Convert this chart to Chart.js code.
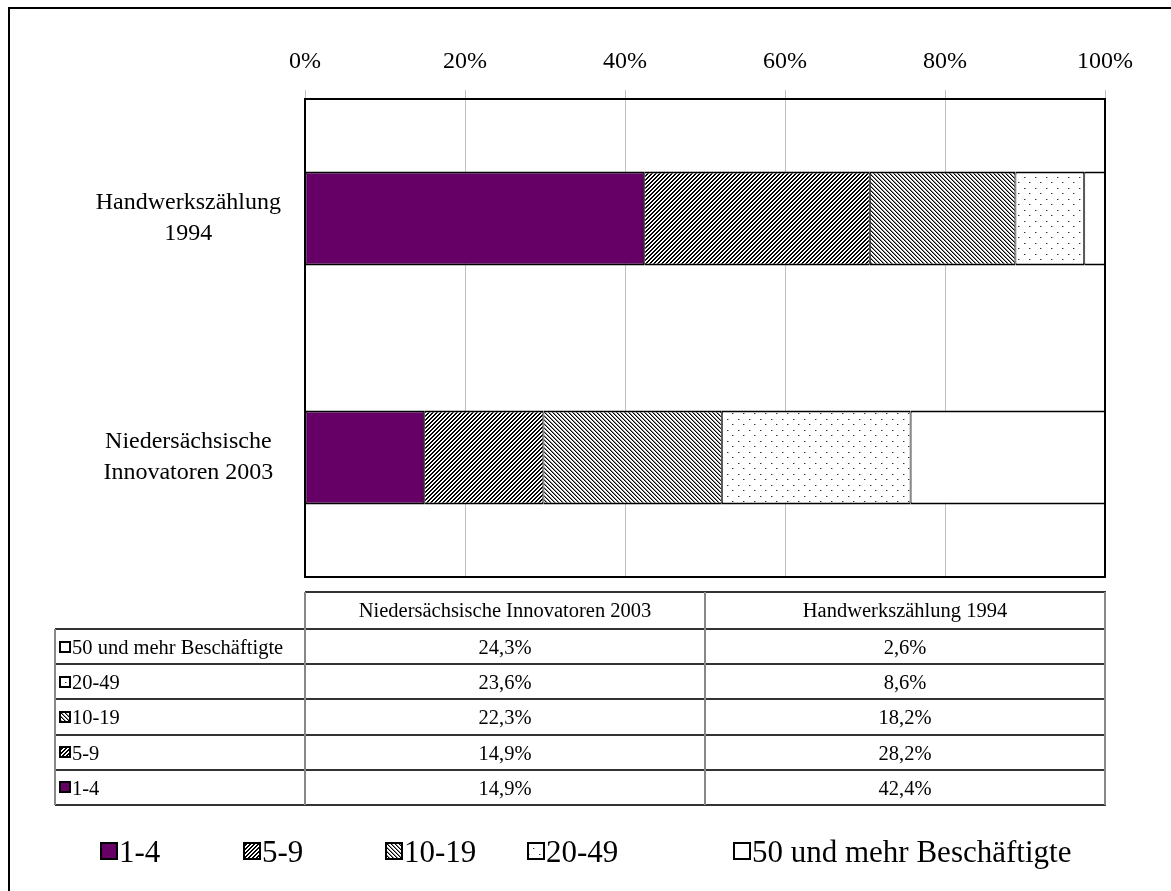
<!DOCTYPE html>
<html>
<head>
<meta charset="utf-8">
<script src="https://cdn.jsdelivr.net/npm/chart.js@4/dist/chart.umd.min.js"></script>
<style>
  html, body { margin: 0; padding: 0; background: #fff; overflow: hidden; }
  #page { position: relative; width: 1171px; height: 891px; overflow: hidden;
          font-family: 'Liberation Serif', 'Times New Roman', serif; color: #000; }
  #frame { position: absolute; left: 8px; top: 7px; width: 1200px; height: 950px; border: 2px solid #000; }
  #chart { position: absolute; left: 0; top: 0; }
  .cell { position: absolute; font-size: 20.5px; line-height: 24px; white-space: nowrap; }
  .hl { position: absolute; height: 2px; background: #333; }
  .vl { position: absolute; width: 2px; background: #888; }
  .key { position: absolute; }
  .lg { position: absolute; font-size: 31px; line-height: 36px; white-space: nowrap; }
</style>
</head>
<body>
<div id="page">
  <div id="frame"></div>
  <canvas id="chart" width="1171" height="891"></canvas>
  <div id="table"></div>
  <div id="legend"></div>
</div>
<script>
// Firm size classes (employees) and their shares in percent
const categories = [['Handwerkszählung', '1994'], ['Niedersächsische', 'Innovatoren 2003']];
const tableColumns = ['Niedersächsische Innovatoren 2003', 'Handwerkszählung 1994'];
const sizeClasses = ['1-4', '5-9', '10-19', '20-49', '50 und mehr Beschäftigte'];
const share1to4   = [42.4, 14.9];
const share5to9   = [28.2, 14.9];
const share10to19 = [18.2, 22.3];
const share20to49 = [8.6, 23.6];
const share50plus = [2.6, 24.3];
const xTicks = [0, 20, 40, 60, 80, 100];

const seriesValues = [share1to4, share5to9, share10to19, share20to49, share50plus];
const FONT = "'Liberation Serif', 'Times New Roman', serif";

// Small bitmap tiles for the hatched fills
function tile(kind) {
  const c = document.createElement('canvas');
  const w = kind === 'dots' ? 11 : 4, h = w;
  c.width = w; c.height = h;
  const g = c.getContext('2d');
  g.fillStyle = '#fff'; g.fillRect(0, 0, w, h);
  for (let y = 0; y < h; y++) {
    for (let x = 0; x < w; x++) {
      if (kind === 'fwd' && (x + y) % 4 < 2) { g.fillStyle = '#000'; g.fillRect(x, y, 1, 1); }
      if (kind === 'back') {
        const k = ((x - y) % 4 + 4) % 4;
        if (k === 0) { g.fillStyle = '#000'; g.fillRect(x, y, 1, 1); }
        else if (k === 1) { g.fillStyle = '#8c8c8c'; g.fillRect(x, y, 1, 1); }
      }
    }
  }
  if (kind === 'dots') {
    g.fillStyle = '#333'; g.fillRect(1, 1, 1, 1); g.fillRect(6, 6, 1, 1);
    g.fillStyle = '#aaa'; g.fillRect(2, 1, 1, 1); g.fillRect(7, 6, 1, 1);
  }
  return c;
}

function fillsFor(ctx) {
  return [
    '#660066',
    ctx.createPattern(tile('fwd'), 'repeat'),
    ctx.createPattern(tile('back'), 'repeat'),
    ctx.createPattern(tile('dots'), 'repeat'),
    '#ffffff'
  ];
}

const ctx = document.getElementById('chart').getContext('2d');
const fills = fillsFor(ctx);

// Black frame round the plot area
const framePlugin = {
  id: 'plotFrame',
  afterDatasetsDraw(chart) {
    const { ctx: c, chartArea: a } = chart;
    c.save();
    c.strokeStyle = '#000';
    c.lineWidth = 2;
    c.strokeRect(a.left, a.top, a.right - a.left, a.bottom - a.top);
    c.restore();
  }
};

new Chart(ctx, {
  type: 'bar',
  data: {
    labels: categories,
    datasets: sizeClasses.map((name, i) => ({
      label: name,
      data: seriesValues[i],
      backgroundColor: fills[i],
      borderColor: '#000',
      borderWidth: { top: 2, bottom: 2, left: 1, right: 1 },
      borderSkipped: false,
      inflateAmount: 0,
      barPercentage: 94 / 239,
      categoryPercentage: 1
    }))
  },
  options: {
    indexAxis: 'y',
    responsive: false,
    animation: false,
    devicePixelRatio: 1,
    layout: { padding: { top: 0, left: 0, right: 66, bottom: 314 } },
    plugins: { legend: { display: false }, tooltip: { enabled: false } },
    scales: {
      x: {
        position: 'top',
        stacked: true,
        min: 0,
        max: 100,
        afterBuildTicks(s) { s.ticks = xTicks.map(v => ({ value: v })); },
        ticks: { callback: v => v + '%', font: { family: FONT, size: 24 }, color: '#000', padding: 14, maxRotation: 0 },
        grid: { color: '#c0c0c0', lineWidth: 1, tickLength: 9, drawTicks: true },
        border: { display: false },
        afterFit(s) { s.height = 99; }
      },
      y: {
        stacked: true,
        grid: { display: false, drawTicks: false },
        border: { display: false },
        ticks: { font: { family: FONT, size: 24, lineHeight: 1.3 }, color: '#000', crossAlign: 'center', padding: 24 },
        afterFit(s) { s.width = 305; }
      }
    }
  },
  plugins: [framePlugin]
});

// Swatch canvas filled like the bars
function swatch(i, size, lw) {
  const c = document.createElement('canvas');
  c.width = size; c.height = size;
  const g = c.getContext('2d');
  g.fillStyle = fillsFor(g)[i];
  g.fillRect(0, 0, size, size);
  g.strokeStyle = '#000';
  g.lineWidth = lw;
  g.strokeRect(lw / 2, lw / 2, size - lw, size - lw);
  return c;
}

const fmt = v => v.toFixed(1).replace('.', ',') + '%';

// Data table under the plot
const tbl = document.getElementById('table');
const L = 55, C1 = 305, C2 = 705, R = 1105, HEAD = 592, ROW0 = 629, RH = 35.2;
function add(parent, cls, style, text) {
  const d = document.createElement('div');
  d.className = cls;
  Object.assign(d.style, style);
  if (text !== undefined) d.textContent = text;
  parent.appendChild(d);
  return d;
}
const rowOrder = [4, 3, 2, 1, 0];
const bottom = ROW0 + RH * rowOrder.length;
add(tbl, 'hl', { left: C1 + 'px', top: (HEAD - 1) + 'px', width: (R - C1 + 1) + 'px' });
for (let r = 0; r <= rowOrder.length; r++) {
  add(tbl, 'hl', { left: L + 'px', top: (Math.round(ROW0 + RH * r) - 1) + 'px', width: (R - L + 1) + 'px' });
}
add(tbl, 'vl', { left: (L - 1) + 'px', top: ROW0 + 'px', height: (bottom - ROW0) + 'px' });
[C1, C2, R].forEach(x => add(tbl, 'vl', { left: (x - 1) + 'px', top: HEAD + 'px', height: (bottom - HEAD) + 'px' }));

tableColumns.forEach((name, c) => {
  const cx = c === 0 ? (C1 + C2) / 2 : (C2 + R) / 2;
  add(tbl, 'cell', { left: (cx - 200) + 'px', width: '400px', textAlign: 'center', top: (HEAD + 6) + 'px' }, name);
});
rowOrder.forEach((s, r) => {
  const top = ROW0 + RH * r;
  const k = swatch(s, 12, 2);
  k.className = 'key';
  k.style.left = '59px';
  k.style.top = Math.round(top + RH / 2 - 6) + 'px';
  tbl.appendChild(k);
  add(tbl, 'cell', { left: '72px', top: (top + 6) + 'px' }, sizeClasses[s]);
  // columns: Niedersächsische first, then Handwerkszählung
  [1, 0].forEach((cat, c) => {
    const cx = c === 0 ? (C1 + C2) / 2 : (C2 + R) / 2;
    add(tbl, 'cell', { left: (cx - 100) + 'px', width: '200px', textAlign: 'center', top: (top + 6) + 'px' }, fmt(seriesValues[s][cat]));
  });
});

// Legend row
const lg = document.getElementById('legend');
const keyX = [100, 243, 385, 527, 733];
sizeClasses.forEach((name, i) => {
  const k = swatch(i, 18, 2);
  k.className = 'key';
  k.style.left = keyX[i] + 'px';
  k.style.top = '842px';
  lg.appendChild(k);
  add(lg, 'lg', { left: (keyX[i] + 19) + 'px', top: '834px' }, name);
});
</script>
</body>
</html>
